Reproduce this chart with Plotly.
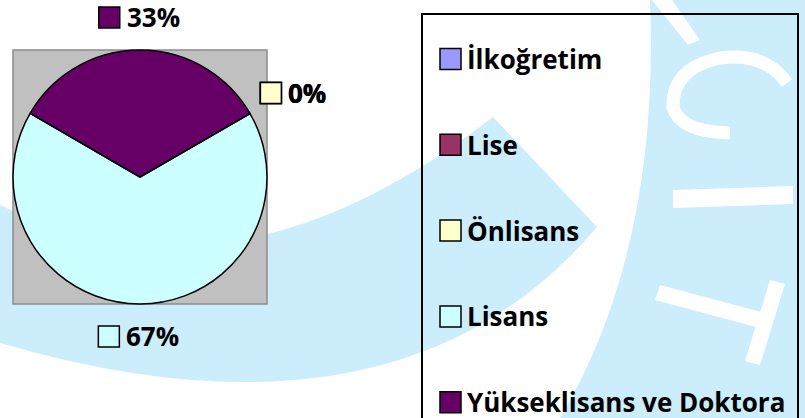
import math
import plotly.graph_objects as go

# ---- data ----
categories = ["İlkoğretim", "Lise", "Önlisans", "Lisans", "Yükseklisans ve Doktora"]
shares = [0, 0, 0, 66.7, 33.3]
colors = ["#9999FF", "#993366", "#FFFFCC", "#CCFFFF", "#660066"]
first_slice_angle = 60  # degrees, clockwise from 12 o'clock

W, H = 805, 418
FONT = "Open Sans"
FS = 26


def px(x):
    return x / W


def py(y):
    return 1 - y / H


def path(cmds, close=True):
    out = []
    for c in cmds:
        op, pts = c[0], c[1:]
        s = op + " " + " ".join(f"{px(x):.5f},{py(y):.5f}" for x, y in pts)
        out.append(s)
    return " ".join(out) + (" Z" if close else "")


# pie geometry (pixels)
pie_left, pie_top, pie_size = 13, 50, 254
cx, cy = pie_left + pie_size / 2, pie_top + pie_size / 2
R = pie_size / 2

shapes = []
WM = "#CCEDFB"
# watermark (background decoration)
shapes.append(dict(type="path", layer="below", xref="paper", yref="paper",
                   path=path([("M", (0, 205)), ("Q", (230, 320), (493, 117)),
                              ("L", (597, 227)), ("Q", (400, 460), (0, 343))]),
                   fillcolor=WM, line=dict(width=0)))
shapes.append(dict(type="path", layer="below", xref="paper", yref="paper",
                   path=path([("M", (650, 0)), ("Q", (660, 250), (560, 418)),
                              ("L", (805, 418)), ("L", (805, 0))]),
                   fillcolor=WM, line=dict(width=0)))
# white letter strokes in the watermark
for pts in [
    [(673, 190), (793, 186), (793, 204), (673, 208)],
    [(660, 285), (765, 313), (760, 328), (655, 300)],
    [(770, 280), (785, 284), (760, 365), (745, 361)],
    [(652, 0), (672, 0), (700, 40), (688, 45)],
]:
    cmds = [("M", pts[0])] + [("L", p) for p in pts[1:]]
    shapes.append(dict(type="path", layer="below", xref="paper", yref="paper",
                       path=path(cmds), fillcolor="white", line=dict(width=0)))
shapes.append(dict(type="path", layer="below", xref="paper", yref="paper",
                   path=path([("M", (787, 83)), ("Q", (765, 52), (720, 58)),
                              ("Q", (672, 68), (673, 107)),
                              ("Q", (680, 132), (730, 133))], close=False),
                   line=dict(color="white", width=13)))

# gray plot area
shapes.append(dict(type="rect", layer="below", xref="paper", yref="paper",
                   x0=px(pie_left), x1=px(pie_left + pie_size),
                   y0=py(pie_top + pie_size), y1=py(pie_top),
                   fillcolor="#C0C0C0", line=dict(color="#8C8C8C", width=1.5)))

annotations = []
SW = 21  # swatch size


def swatch(x0, y0, color):
    shapes.append(dict(type="rect", xref="paper", yref="paper",
                       x0=px(x0), x1=px(x0 + SW), y0=py(y0 + SW), y1=py(y0),
                       fillcolor=color, line=dict(color="black", width=1.5)))


# data labels (outside end), computed from the slice angles
total = sum(shares)
cum = 0
for cat, v, col in zip(categories, shares, colors):
    mid = math.radians(first_slice_angle + 360 * (cum + v / 2) / total)
    cum += v
    text = f"{round(100 * v / total)}%"
    tw = len(text) * 18.3
    bw = SW + 7 + tw
    ax = cx + (R + 22) * math.sin(mid)
    ay = cy - (R + 22) * math.cos(mid)
    bx = ax + (bw / 2) * math.sin(mid) - 5 * abs(math.sin(mid))
    by = ay - (SW / 2) * math.cos(mid) - 5 * abs(math.sin(mid))
    x0 = bx - bw / 2
    swatch(x0, by - SW / 2, col)
    annotations.append(dict(xref="paper", yref="paper", x=px(x0 + SW + 5), y=py(by),
                            xanchor="left", yanchor="middle", showarrow=False, text=f"<b>{text}</b>",
                            font=dict(family=FONT, size=FS, color="black")))

# legend (manual)
shapes.append(dict(type="rect", xref="paper", yref="paper",
                   x0=px(422), x1=px(798), y0=py(440), y1=py(14),
                   fillcolor="rgba(0,0,0,0)", line=dict(color="black", width=2)))
for i, (cat, col) in enumerate(zip(categories, colors)):
    yc = 59 + i * 85.8
    swatch(440, yc - SW / 2, col)
    annotations.append(dict(xref="paper", yref="paper", x=px(465), y=py(yc),
                            xanchor="left", yanchor="middle", showarrow=False, text=f"<b>{cat}</b>",
                            font=dict(family=FONT, size=FS, color="black")))

fig = go.Figure(go.Pie(
    labels=categories, values=shares, sort=False, direction="clockwise",
    rotation=first_slice_angle, textinfo="none", showlegend=False,
    marker=dict(colors=colors, line=dict(color="black", width=1.5)),
    domain=dict(x=[px(pie_left), px(pie_left + pie_size)],
                y=[py(pie_top + pie_size), py(pie_top)]),
))
fig.update_layout(width=W, height=H, autosize=False,
                  margin=dict(l=0, r=0, t=0, b=0),
                  paper_bgcolor="white", plot_bgcolor="white",
                  shapes=shapes, annotations=annotations)
fig.write_html("out.html", config={"displayModeBar": False},
               post_script="document.body.style.margin='0';document.body.style.overflow='hidden';")
